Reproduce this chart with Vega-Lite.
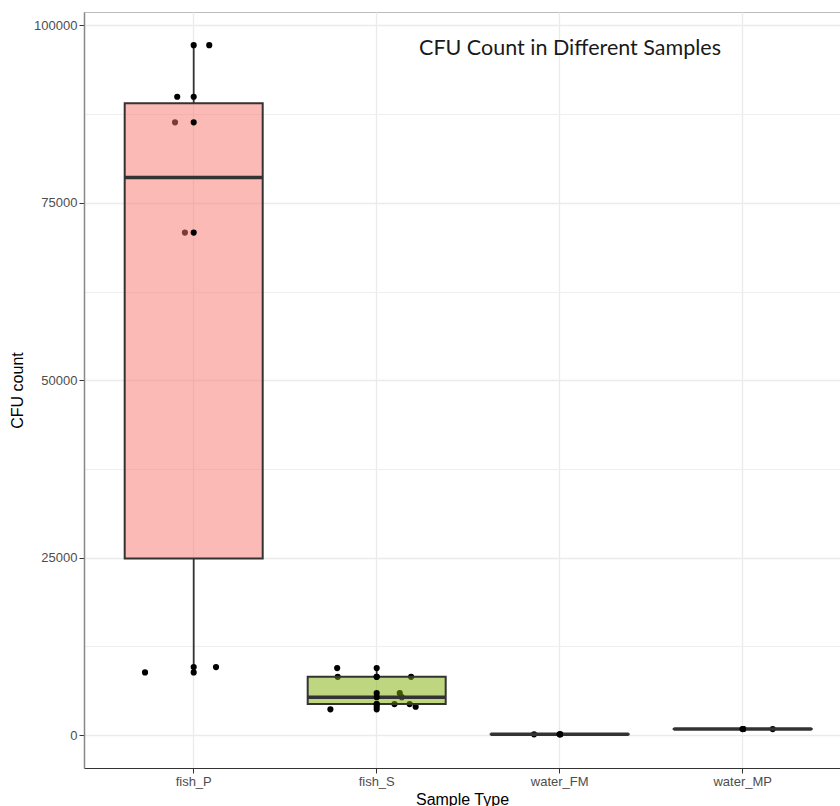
{
  "$schema": "https://vega.github.io/schema/vega-lite/v6.json",
  "autosize": {"type": "none"},
  "padding": {"left": 84, "top": 12, "right": 0, "bottom": 38},
  "width": 756,
  "height": 756,
  "background": "white",
  "title": {"text": "CFU Count in Different Samples", "font": "Lato", "fontSize": 21.5, "fontWeight": "normal", "color": "#1a1a1a", "anchor": "middle", "frame": "group", "dx": 108, "dy": 64, "baseline": "alphabetic", "offset": 0},
  "data": {"values": [
    {"type": "fish_P", "cfu": 97220, "jitter": 0.085},
    {"type": "fish_P", "cfu": 89950, "jitter": -0.090},
    {"type": "fish_P", "cfu": 86350, "jitter": -0.102},
    {"type": "fish_P", "cfu": 70810, "jitter": -0.048},
    {"type": "fish_P", "cfu": 9570, "jitter": 0.122},
    {"type": "fish_P", "cfu": 8820, "jitter": -0.266},
    {"type": "fish_S", "cfu": 9430, "jitter": -0.216},
    {"type": "fish_S", "cfu": 8200, "jitter": -0.213},
    {"type": "fish_S", "cfu": 8200, "jitter": 0.188},
    {"type": "fish_S", "cfu": 5900, "jitter": 0.126},
    {"type": "fish_S", "cfu": 5330, "jitter": 0.137},
    {"type": "fish_S", "cfu": 4360, "jitter": 0.097},
    {"type": "fish_S", "cfu": 4360, "jitter": 0.180},
    {"type": "fish_S", "cfu": 3980, "jitter": 0.213},
    {"type": "fish_S", "cfu": 3620, "jitter": -0.253},
    {"type": "water_FM", "cfu": 90, "jitter": -0.140},
    {"type": "water_FM", "cfu": 110, "jitter": 0.005},
    {"type": "water_MP", "cfu": 840, "jitter": 0.164},
    {"type": "water_MP", "cfu": 850, "jitter": 0.005}
  ]},
  "encoding": {
    "x": {"field": "type", "type": "nominal", "title": "Sample Type",
          "scale": {"paddingInner": 0, "paddingOuter": 0.0656, "align": 0.758},
          "axis": {"bandPosition": 0.5, "labelAngle": 0, "grid": true}}
  },
  "layer": [
    {
      "mark": {"type": "circle", "color": "black", "size": 38, "opacity": 1},
      "encoding": {
        "y": {"field": "cfu", "type": "quantitative", "title": "CFU count",
              "scale": {"domain": [-4650, 101900], "nice": false, "zero": false},
              "axis": {"values": [0, 25000, 50000, 75000, 100000], "format": "d"}},
        "xOffset": {"field": "jitter", "type": "quantitative", "scale": {"domain": [-0.5, 0.5], "range": [0, 183]}}
      }
    },
    {
      "mark": {"type": "boxplot", "size": 138, "extent": 1.5, "outliers": false, "ticks": false,
               "box": {"stroke": "#333333", "strokeWidth": 2, "fillOpacity": 0.5},
               "median": {"color": "#333333", "thickness": 3.5, "opacity": 1},
               "rule": {"color": "#333333", "strokeWidth": 1.8, "opacity": 1}},
      "encoding": {
        "y": {"field": "cfu", "type": "quantitative", "axis": null},
        "color": {"field": "type", "type": "nominal", "legend": null,
                  "scale": {"range": ["#F8766D", "#7CAE00", "#00BFC4", "#C77CFF"]}}
      }
    },
    {
      "mark": {"type": "circle", "color": "black", "size": 38, "opacity": 1},
      "encoding": {
        "y": {"field": "cfu", "type": "quantitative",
              "axis": {"values": [12500, 37500, 62500, 87500], "labels": false, "ticks": false, "domain": false, "title": null, "grid": true, "gridColor": "#EFEFEF", "gridWidth": 1}}
      }
    }
  ],
  "resolve": {"axis": {"y": "independent"}},
  "config": {
    "font": "Liberation Sans",
    "view": {"stroke": "#BDBDBD", "strokeWidth": 1},
    "axis": {"labelFont": "Liberation Sans", "labelFontSize": 13, "labelColor": "#4D4D4D",
             "titleFont": "Liberation Sans", "titleFontSize": 16, "titleFontWeight": "normal", "titleColor": "#000000",
             "tickColor": "#333333", "tickSize": 5, "labelPadding": 2, "gridColor": "#EBEBEB", "gridWidth": 1.3, "grid": true},
    "axisX": {"domainColor": "#333333", "domainWidth": 1.2, "titlePadding": 3},
    "axisY": {"domainColor": "#888888", "domainWidth": 1.5, "titlePadding": 8}
  }
}
